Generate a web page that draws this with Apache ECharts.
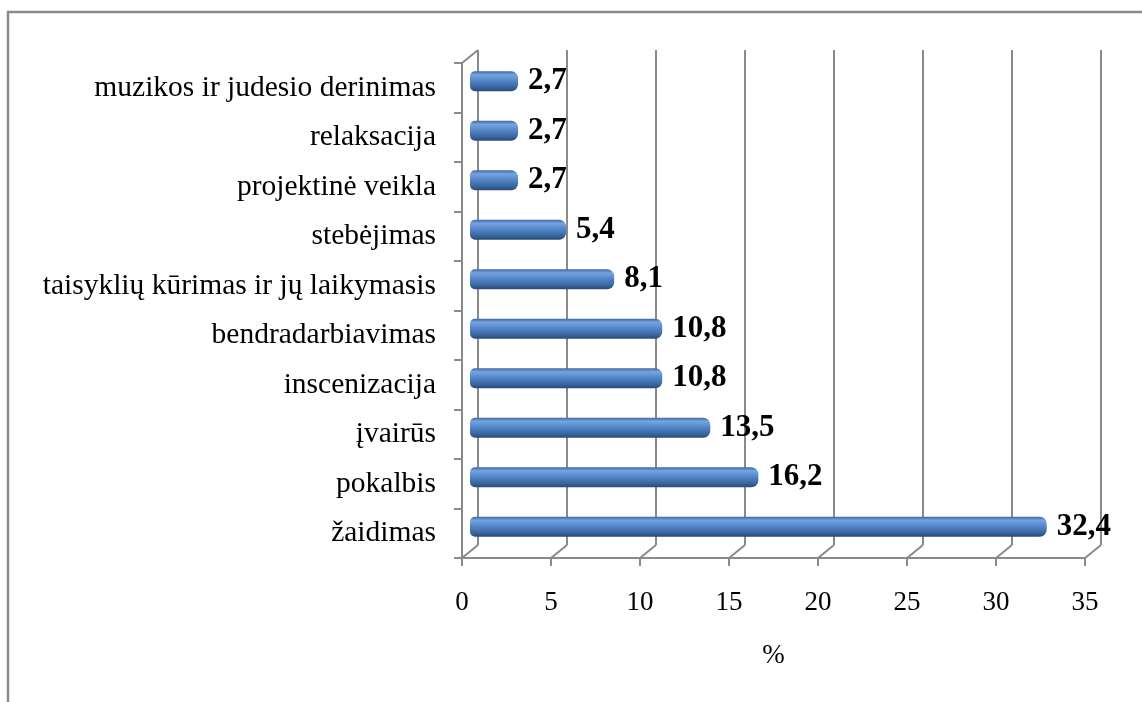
<!DOCTYPE html>
<html><head><meta charset="utf-8">
<script src="https://cdn.jsdelivr.net/npm/echarts@6/dist/echarts.min.js"></script>
<style>html,body{margin:0;padding:0;background:#fff}#c{width:1142px;height:702px}</style>
</head><body><div id="c"></div>
<script>
const categories = ['žaidimas','pokalbis','įvairūs','inscenizacija','bendradarbiavimas','taisyklių kūrimas ir jų laikymasis','stebėjimas','projektinė veikla','relaksacija','muzikos ir judesio derinimas'];
const values = [32.4,16.2,13.5,10.8,10.8,8.1,5.4,2.7,2.7,2.7];
const xTicks = [0,5,10,15,20,25,30,35];
const axisName = '%';

const FONT = '"Liberation Serif","Times New Roman",serif';
const GRID_COLOR = '#8a8a8a';
const DX = 16, DY = -13;
const front = {left: 462, top: 63, width: 623, height: 495};
const chart = echarts.init(document.getElementById('c'));
const option = {
  animation: false,
  grid: [
    {left: front.left + DX, top: front.top + DY, width: front.width, height: front.height},
    {left: front.left, top: front.top, width: front.width, height: front.height},
    {left: front.left + DX/2, top: front.top + DY/2, width: front.width, height: front.height}
  ],
  xAxis: [
    {gridIndex: 0, type: 'value', min: xTicks[0], max: xTicks[xTicks.length-1], interval: 5,
     axisLine: {show: false}, axisTick: {show: false}, axisLabel: {show: false},
     splitLine: {show: true, lineStyle: {color: GRID_COLOR, width: 2}}},
    {gridIndex: 1, type: 'value', min: xTicks[0], max: xTicks[xTicks.length-1], interval: 5,
     axisLine: {show: true, lineStyle: {color: GRID_COLOR, width: 2}},
     axisTick: {show: true, length: 8, lineStyle: {color: GRID_COLOR, width: 2}},
     splitLine: {show: false},
     axisLabel: {fontFamily: FONT, fontSize: 27, color: '#000', margin: 31},
     name: axisName, nameLocation: 'middle', nameGap: 84,
     nameTextStyle: {fontFamily: FONT, fontSize: 27, color: '#000'}},
    {gridIndex: 2, type: 'value', min: xTicks[0], max: xTicks[xTicks.length-1], show: false}
  ],
  yAxis: [
    {gridIndex: 0, type: 'category', data: categories, show: false},
    {gridIndex: 1, type: 'category', data: categories,
     axisLine: {show: true, lineStyle: {color: GRID_COLOR, width: 2}},
     axisTick: {show: true, length: 8, lineStyle: {color: GRID_COLOR, width: 2}},
     axisLabel: {fontFamily: FONT, fontSize: 29.5, color: '#000', margin: 26}},
    {gridIndex: 2, type: 'category', data: categories, show: false}
  ],
  series: [{
    type: 'bar', xAxisIndex: 2, yAxisIndex: 2, data: values, barWidth: 20,
    itemStyle: {
      borderRadius: [5, 7, 7, 5],
      color: new echarts.graphic.LinearGradient(0, 0, 0, 1, [
        {offset: 0, color: '#3d68a3'},
        {offset: 0.18, color: '#76a4df'},
        {offset: 0.45, color: '#5688ca'},
        {offset: 0.8, color: '#3a669f'},
        {offset: 1, color: '#274a7a'}
      ])
    },
    label: {show: true, position: 'right', distance: 10, fontFamily: FONT, fontSize: 31,
      fontWeight: 'bold', color: '#000',
      formatter: p => p.value.toFixed(1).replace('.', ',')}
  }]
};
chart.setOption(option);

// 3D frame diagonals from the axis scales
const gfx = [{type: 'rect', shape: {x: 8, y: 12, width: 1300, height: 900},
  style: {fill: 'none', stroke: '#8a8a8a', lineWidth: 2.5}, z: 0}];
const yLo = categories[0];
xTicks.forEach(t => {
  const p = chart.convertToPixel({xAxisIndex: 1, yAxisIndex: 1}, [t, yLo]);
  const bottomY = front.top + front.height;
  gfx.push({type: 'line', shape: {x1: p[0], y1: bottomY, x2: p[0] + DX, y2: bottomY + DY},
    style: {stroke: GRID_COLOR, lineWidth: 2}, z: 1});
});
gfx.push({type: 'line', shape: {x1: front.left, y1: front.top, x2: front.left + DX, y2: front.top + DY},
  style: {stroke: GRID_COLOR, lineWidth: 2}, z: 1});
chart.setOption({graphic: gfx});
</script></body></html>
